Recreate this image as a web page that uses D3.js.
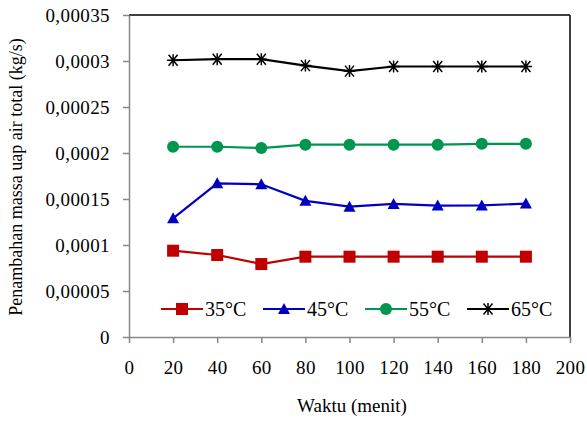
<!DOCTYPE html>
<html><head><meta charset="utf-8">
<script src="https://cdn.jsdelivr.net/npm/d3@7"></script>
<style>body{margin:0;background:#fff}svg text{font-family:"Liberation Serif","Times New Roman",serif;fill:#000}</style>
</head><body>
<script>
const times = [20,40,60,80,100,120,140,160,180];
const s35 = [0.0000938,0.0000891,0.0000793,0.0000873,0.0000873,0.0000873,0.0000873,0.0000873,0.0000873];
const s45 = [0.000129,0.000167,0.000166,0.000148,0.0001417,0.0001446,0.0001428,0.000143,0.000145];
const s55 = [0.0002068,0.0002068,0.0002054,0.000209,0.000209,0.000209,0.000209,0.00021,0.00021];
const s65 = [0.0003008,0.000302,0.000302,0.000295,0.000289,0.000294,0.000294,0.000294,0.000294];
const seriesNames = ["35°C","45°C","55°C","65°C"];
const seriesColors = ["#C00000","#0000C0","#00964F","#000000"];
const markers = ["square","triangle","circle","asterisk"];
const xTicks = [0,20,40,60,80,100,120,140,160,180,200];
const yTicks = [0,0.00005,0.0001,0.00015,0.0002,0.00025,0.0003,0.00035];
const yTickLabels = ["0","0,00005","0,0001","0,00015","0,0002","0,00025","0,0003","0,00035"];
const xTitle = "Waktu (menit)";
const yTitle = "Penambahan massa uap air total (kg/s)";

const W=587,H=421;
const L=129,R=570,T=15,B=337;
const FONT='"Liberation Serif","Times New Roman",serif';
const svg=d3.select("body").append("svg").attr("width",W).attr("height",H);
const x=d3.scaleLinear().domain([0,200]).range([L,R]);
const y=d3.scaleLinear().domain([0,0.00035]).range([B,T]);

svg.append("line").attr("x1",L).attr("x2",R).attr("y1",T).attr("y2",T).attr("stroke","#000").attr("stroke-width",1.5);
svg.append("line").attr("x1",R).attr("x2",R).attr("y1",T).attr("y2",B).attr("stroke","#000").attr("stroke-width",1.5);

const xa=svg.append("g").attr("transform",`translate(0,${B})`)
  .call(d3.axisBottom(x).tickValues(xTicks).tickSize(6).tickSizeOuter(0).tickPadding(18));
const ya=svg.append("g").attr("transform",`translate(${L},0)`)
  .call(d3.axisLeft(y).tickValues(yTicks).tickFormat((d,i)=>yTickLabels[i]).tickSize(6).tickSizeOuter(0).tickPadding(13));
[xa,ya].forEach(a=>{
  a.attr("font-family",FONT).attr("font-size",19);
  a.selectAll("path,line").attr("stroke","#888").attr("stroke-width",1.5);
  a.selectAll("text").attr("font-family",FONT).attr("font-size",19).attr("fill","#000").attr("letter-spacing","0.4");
});

const all=[s35,s45,s55,s65];
function drawMarker(g,type,cx,cy,color){
  if(type==="square") g.append("rect").attr("x",cx-6).attr("y",cy-6).attr("width",12).attr("height",12).attr("fill",color);
  else if(type==="triangle") g.append("path").attr("d",`M${cx},${cy-6}L${cx+6},${cy+5}L${cx-6},${cy+5}Z`).attr("fill",color);
  else if(type==="circle") g.append("circle").attr("cx",cx).attr("cy",cy).attr("r",6).attr("fill",color);
  else {
    const p=`M${cx-6},${cy}L${cx+6},${cy}M${cx-4.5},${cy-5.5}L${cx+4.5},${cy+5.5}M${cx+4.5},${cy-5.5}L${cx-4.5},${cy+5.5}M${cx},${cy-6}L${cx},${cy+6}`;
    g.append("path").attr("d",p).attr("stroke",color).attr("stroke-width",1.5).attr("fill","none");
  }
}
const line=d3.line().x((d,i)=>x(times[i])).y(d=>y(d));
all.forEach((s,k)=>{
  const g=svg.append("g");
  g.append("path").datum(s).attr("d",line).attr("fill","none").attr("stroke",seriesColors[k]).attr("stroke-width",2.2);
  s.forEach((v,i)=>drawMarker(g,markers[k],x(times[i]),y(v),seriesColors[k]));
});

const legX=[161,263,365,467];
const legY=309;
seriesNames.forEach((n,k)=>{
  const g=svg.append("g");
  g.append("line").attr("x1",legX[k]).attr("x2",legX[k]+42).attr("y1",legY).attr("y2",legY).attr("stroke",seriesColors[k]).attr("stroke-width",2.2);
  drawMarker(g,markers[k],legX[k]+21,legY,seriesColors[k]);
  g.append("text").attr("x",legX[k]+44).attr("y",legY+7).attr("font-family",FONT).attr("font-size",20).text(n);
});

svg.append("text").attr("x",352).attr("y",412).attr("text-anchor","middle").attr("font-family",FONT).attr("font-size",19).text(xTitle);
svg.append("text").attr("transform","translate(22,177) rotate(-90)").attr("text-anchor","middle").attr("font-family",FONT).attr("font-size",18).text(yTitle);
</script>
</body></html>
